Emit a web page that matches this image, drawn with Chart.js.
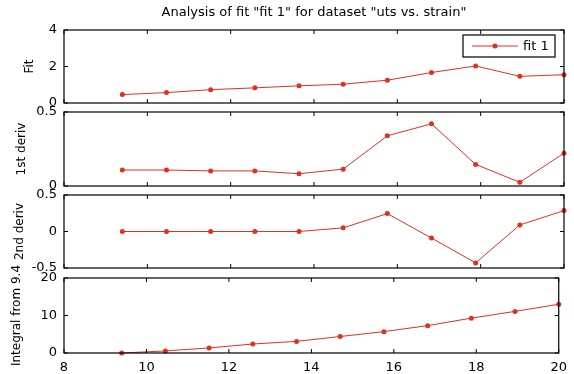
<!DOCTYPE html>
<html>
<head>
<meta charset="utf-8">
<script src="https://cdn.jsdelivr.net/npm/chart.js@4/dist/chart.umd.min.js"></script>
<style>
  body { margin: 0; background: #fff; }
  #wrap { position: relative; width: 574px; height: 374px; }
  #wrap canvas { position: absolute; left: 0; top: 0; }
</style>
</head>
<body>
<div id="wrap">
  <canvas id="c0" width="574" height="374"></canvas>
  <canvas id="c1" width="574" height="374"></canvas>
  <canvas id="c2" width="574" height="374"></canvas>
  <canvas id="c3" width="574" height="374"></canvas>
</div>
<script>
// data
const xValues = [9.4, 10.46, 11.52, 12.58, 13.64, 14.7, 15.76, 16.82, 17.88, 18.94, 20.0];
const fitValues = [0.46, 0.57, 0.73, 0.83, 0.94, 1.03, 1.25, 1.67, 2.03, 1.46, 1.55];
const deriv1Values = [0.108, 0.108, 0.102, 0.102, 0.083, 0.114, 0.339, 0.42, 0.146, 0.025, 0.222];
const deriv2Values = [0, 0, 0, 0, 0, 0.05, 0.245, -0.09, -0.43, 0.09, 0.286];
const integralValues = [0, 0.55, 1.35, 2.4, 3.1, 4.4, 5.7, 7.3, 9.3, 11.1, 13.0];
const panelTitles = ['Fit', '1st deriv', '2nd deriv', 'Integral from 9.4'];
const yRanges = [[0, 4, 2], [0, 0.5, 0.5], [-0.5, 0.5, 0.5], [0, 20, 10]];
const xRange = [8, 20, 2];
const seriesLabel = 'fit 1';
const chartTitle = 'Analysis of fit "fit 1" for dataset "uts vs. strain"';

const series = [fitValues, deriv1Values, deriv2Values, integralValues];

// plot-area placement (pixels)
const plotLeft = 64, plotRight = 564;
const panelBox = [[30, 103], [112, 186], [195, 268], [278, 353]];
const lineColor = '#e0301e';
const font = '"DejaVu Sans", sans-serif';

// box + inward ticks, MATLAB style
const framePlugin = {
    id: 'frame',
    afterDraw(chart, args, opts) {
        const { ctx, chartArea: a, scales } = chart;
        ctx.save();
        ctx.strokeStyle = '#000';
        ctx.lineWidth = 1.2;
        ctx.strokeRect(a.left, a.top, a.right - a.left, a.bottom - a.top);
        ctx.lineWidth = 1;
        scales.x.ticks.forEach(t => {
            const px = scales.x.getPixelForValue(t.value);
            ctx.beginPath();
            ctx.moveTo(px, a.top); ctx.lineTo(px, a.top + 4);
            ctx.moveTo(px, a.bottom); ctx.lineTo(px, a.bottom - 4);
            ctx.stroke();
        });
        scales.y.ticks.forEach(t => {
            const py = scales.y.getPixelForValue(t.value);
            ctx.beginPath();
            ctx.moveTo(a.left, py); ctx.lineTo(a.left + 4, py);
            ctx.moveTo(a.right, py); ctx.lineTo(a.right - 4, py);
            ctx.stroke();
        });
        // y label
        ctx.fillStyle = '#000';
        ctx.font = '12px ' + font;
        ctx.textAlign = 'center';
        ctx.textBaseline = 'middle';
        ctx.save();
        ctx.translate(opts.labelX, (a.top + a.bottom) / 2);
        ctx.rotate(-Math.PI / 2);
        ctx.fillText(opts.label, 0, 0);
        ctx.restore();

        if (opts.first) {
            ctx.font = '13px ' + font;
            ctx.fillText(chartTitle, (a.left + a.right) / 2, 13);
            // legend box
            const lx = 463, ly = 35, lw = 92, lh = 22;
            ctx.fillStyle = '#fff';
            ctx.fillRect(lx, ly, lw, lh);
            ctx.strokeStyle = '#000';
            ctx.lineWidth = 1.2;
            ctx.strokeRect(lx, ly, lw, lh);
            ctx.strokeStyle = lineColor;
            ctx.lineWidth = 1;
            ctx.beginPath();
            ctx.moveTo(lx + 9, ly + lh / 2); ctx.lineTo(lx + 55, ly + lh / 2);
            ctx.stroke();
            ctx.fillStyle = lineColor;
            ctx.beginPath();
            ctx.arc(lx + 32, ly + lh / 2, 2.5, 0, Math.PI * 2);
            ctx.fill();
            ctx.fillStyle = '#000';
            ctx.textAlign = 'left';
            ctx.fillText(seriesLabel, lx + 60, ly + lh / 2 + 1);
        }
        ctx.restore();
    }
};

const labelXs = [30, 22, 20, 17];

series.forEach((vals, i) => {
    const bottom = i === 3;
    const [top, bot] = panelBox[i];
    new Chart(document.getElementById('c' + i), {
        type: 'line',
        data: {
            datasets: [{
                label: seriesLabel,
                data: xValues.map((x, k) => ({ x: x, y: vals[k] })),
                borderColor: lineColor,
                backgroundColor: lineColor,
                borderWidth: 1,
                pointRadius: 2.5,
                pointBorderWidth: 0,
                tension: 0,
                clip: false
            }]
        },
        options: {
            responsive: false,
            animation: false,
            layout: {
                padding: { top: top, left: 0, right: 574 - plotRight, bottom: bottom ? 0 : 374 - bot }
            },
            plugins: {
                legend: { display: false },
                tooltip: { enabled: false },
                frame: { label: panelTitles[i], labelX: labelXs[i], first: i === 0 }
            },
            scales: {
                x: {
                    type: 'linear',
                    min: xRange[0], max: xRange[1],
                    grid: { display: false, drawTicks: false },
                    border: { display: false },
                    ticks: { stepSize: xRange[2], display: bottom, color: '#000', padding: 7, font: { family: font, size: 13 } },
                    afterFit: s => { s.height = bottom ? 374 - bot : 0; }
                },
                y: {
                    min: yRanges[i][0], max: yRanges[i][1],
                    grid: { display: false, drawTicks: false },
                    border: { display: false },
                    ticks: { stepSize: yRanges[i][2], color: '#000', padding: 7, font: { family: font, size: 13 } },
                    afterFit: s => { s.width = plotLeft; }
                }
            }
        },
        plugins: [framePlugin]
    });
});
</script>
</body>
</html>
